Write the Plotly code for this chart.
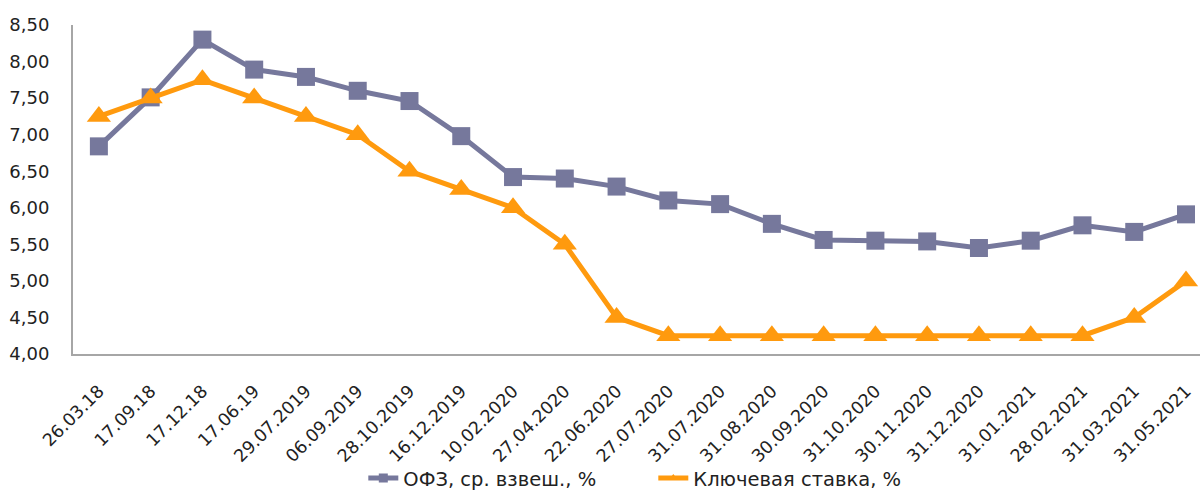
import plotly.graph_objects as go

dates = ["26.03.18", "17.09.18", "17.12.18", "17.06.19", "29.07.2019", "06.09.2019",
         "28.10.2019", "16.12.2019", "10.02.2020", "27.04.2020", "22.06.2020", "27.07.2020",
         "31.07.2020", "31.08.2020", "30.09.2020", "31.10.2020", "30.11.2020", "31.12.2020",
         "31.01.2021", "28.02.2021", "31.03.2021", "31.05.2021"]

ofz_yield = [6.84, 7.51, 8.30, 7.89, 7.79, 7.60, 7.46, 6.98, 6.42, 6.40, 6.29, 6.10,
             6.05, 5.78, 5.56, 5.55, 5.54, 5.45, 5.55, 5.76, 5.67, 5.91]

key_rate = [7.25, 7.50, 7.75, 7.50, 7.25, 7.00, 6.50, 6.25, 6.00, 5.50, 4.50, 4.25,
            4.25, 4.25, 4.25, 4.25, 4.25, 4.25, 4.25, 4.25, 4.50, 5.00]

y_ticks = [4.0, 4.5, 5.0, 5.5, 6.0, 6.5, 7.0, 7.5, 8.0, 8.5]

series_names = ["ОФЗ, ср. взвеш., %", "Ключевая ставка, %"]

OFZ_COLOR = "#76789C"
KEY_COLOR = "#FF9A0E"
FONT = "DejaVu Sans"
TEXT_COLOR = "#222222"

fig = go.Figure()

# data traces (legend entries are drawn by the compact legend-only traces below)
fig.add_trace(go.Scatter(
    x=dates, y=ofz_yield, name=series_names[0], showlegend=False,
    mode="lines+markers",
    line=dict(color=OFZ_COLOR, width=5),
    marker=dict(symbol="square", size=18, color=OFZ_COLOR),
))
fig.add_trace(go.Scatter(
    x=dates, y=key_rate, name=series_names[1], showlegend=False,
    mode="lines+markers",
    line=dict(color=KEY_COLOR, width=5),
    marker=dict(symbol="triangle-up", size=21, color=KEY_COLOR),
))

# legend keys with small markers
fig.add_trace(go.Scatter(
    x=[None], y=[None], name=series_names[0], mode="lines+markers",
    line=dict(color=OFZ_COLOR, width=5),
    marker=dict(symbol="square", size=9, color=OFZ_COLOR),
))
fig.add_trace(go.Scatter(
    x=[None], y=[None], name=series_names[1], mode="lines+markers",
    line=dict(color=KEY_COLOR, width=5),
    marker=dict(symbol="triangle-up", size=8, color=KEY_COLOR),
))

fig.update_layout(
    width=1203, height=492,
    margin=dict(l=73, r=3, t=25, b=138, autoexpand=False),
    paper_bgcolor="white", plot_bgcolor="white",
    font=dict(family=FONT, size=17, color=TEXT_COLOR),
    separators=", ",
    showlegend=True,
    legend=dict(orientation="h", xref="container", yref="container",
                x=0.302, xanchor="left", y=0.028, yanchor="middle",
                bgcolor="rgba(0,0,0,0)",
                font=dict(family=FONT, size=19.5, color=TEXT_COLOR),
                entrywidth=245, entrywidthmode="pixels",
                itemwidth=30, tracegroupgap=0),
)
fig.update_xaxes(
    type="category", range=[-0.5, 21.27], automargin=False,
    tickangle=-45, showgrid=False, zeroline=False,
    showline=True, linecolor="#A6A6A6", linewidth=2,
    ticks="", ticklabelstandoff=18,
    tickfont=dict(family=FONT, size=17.5, color=TEXT_COLOR),
)
fig.update_yaxes(
    range=[4.0, 8.5], tickvals=y_ticks, tickformat=".2f", automargin=False,
    showgrid=False, zeroline=False,
    showline=True, linecolor="#A6A6A6", linewidth=2,
    ticks="", ticklabelstandoff=18,
    tickfont=dict(family=FONT, size=18, color=TEXT_COLOR),
)

fig.write_html("out.html")
